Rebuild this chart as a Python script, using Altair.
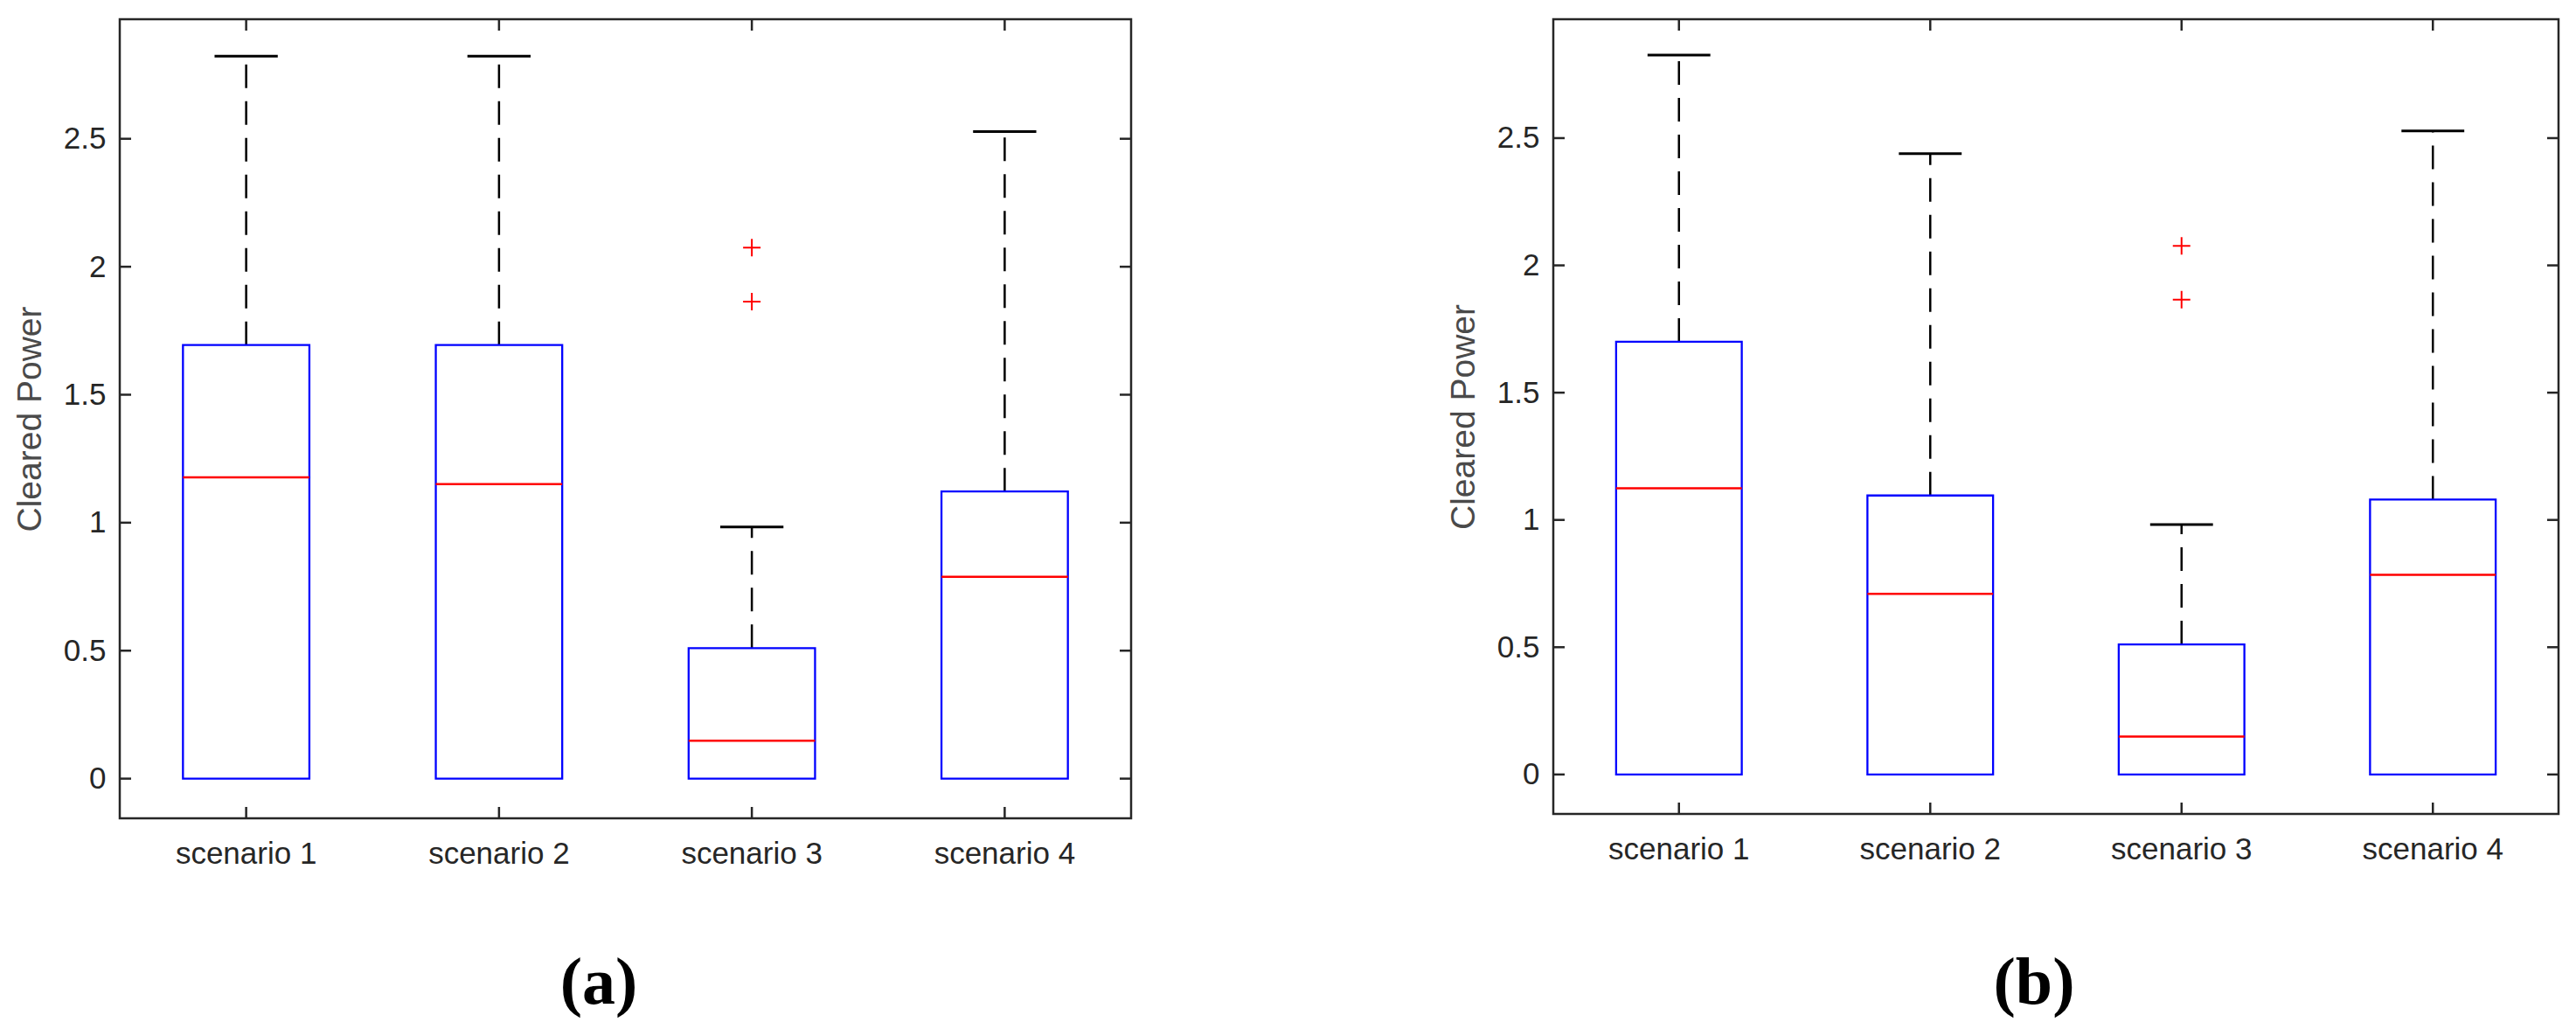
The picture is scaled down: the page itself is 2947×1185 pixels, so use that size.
import altair as alt
import pandas as pd

# ---------------- data ----------------
scenarios = ["scenario 1", "scenario 2", "scenario 3", "scenario 4"]
y_ticks = [0, 0.5, 1, 1.5, 2, 2.5]

# panel (a)
a_q1 = [0, 0, 0, 0]
a_q3 = [1.694, 1.694, 0.510, 1.122]
a_med = [1.177, 1.151, 0.148, 0.789]
a_hi = [2.823, 2.823, 0.983, 2.528]
a_out_scen = ["scenario 3", "scenario 3"]
a_out_val = [2.075, 1.864]

# panel (b)
b_q1 = [0, 0, 0, 0]
b_q3 = [1.700, 1.096, 0.511, 1.080]
b_med = [1.124, 0.710, 0.149, 0.784]
b_hi = [2.826, 2.439, 0.982, 2.528]
b_out_scen = ["scenario 3", "scenario 3"]
b_out_val = [2.077, 1.865]

Y_DOMAIN = [-0.155, 2.967]
AXIS_COLOR = "#262626"
FONT = "Liberation Sans"


def panel(q1, q3, med, hi, out_scen, out_val, label, W, H, label_x, label_y):
    df = pd.DataFrame({"scenario": scenarios, "q1": q1, "q3": q3, "med": med, "hi": hi})
    out = pd.DataFrame({"scenario": out_scen, "v": out_val})
    yt = pd.DataFrame({"v": y_ticks})
    xt = pd.DataFrame({"scenario": scenarios})
    lab = pd.DataFrame({"label": [label]})
    band = W / len(scenarios)

    def X():
        return alt.X(
            "scenario:N",
            sort=scenarios,
            scale=alt.Scale(domain=scenarios, paddingInner=0, paddingOuter=0),
            axis=alt.Axis(
                title=None, labelAngle=0, ticks=False, tickSize=0, domain=False,
                labelPadding=23, labelFontSize=35, labelFont=FONT,
                labelColor=AXIS_COLOR, grid=False,
            ),
        )

    def Y(field):
        return alt.Y(
            f"{field}:Q",
            scale=alt.Scale(domain=Y_DOMAIN, nice=False, zero=False),
            axis=alt.Axis(
                title="Cleared Power", values=y_ticks, format="~g", ticks=False,
                tickSize=0, domain=False, grid=False, labelPadding=16,
                labelFontSize=35, labelFont=FONT, labelColor=AXIS_COLOR,
                titleFont=FONT, titleFontSize=39, titleFontWeight="normal",
                titleColor="#4a4a4a", titlePadding=18, labelFlush=False,
            ),
        )

    whisker = alt.Chart(df).mark_rule(
        color="black", strokeWidth=2.5, strokeDash=[27, 15]
    ).encode(x=X(), y=Y("q3"), y2="hi:Q")
    cap = alt.Chart(df).mark_tick(
        color="black", thickness=3, size=band * 0.25, opacity=1
    ).encode(x=X(), y=Y("hi"))
    box = alt.Chart(df).mark_bar(
        fillOpacity=0, stroke="#0000ff", strokeWidth=2.3, width={"band": 0.5}
    ).encode(x=X(), y=Y("q1"), y2="q3:Q")
    median = alt.Chart(df).mark_tick(
        color="#ff0000", thickness=2.5, size=band * 0.5, opacity=1
    ).encode(x=X(), y=Y("med"))
    outl = alt.Chart(out).mark_point(
        shape="M-1,0L1,0M0,-1L0,1", size=400, strokeWidth=2,
        color="#ff0000", filled=False, opacity=1,
    ).encode(x=X(), y=Y("v"))

    ytl = alt.Chart(yt).mark_rule(color=AXIS_COLOR, strokeWidth=2.5).encode(
        y=Y("v"), x=alt.value(0), x2=alt.value(13))
    ytr = alt.Chart(yt).mark_rule(color=AXIS_COLOR, strokeWidth=2.5).encode(
        y=Y("v"), x=alt.value(W - 13), x2=alt.value(W))
    xtt = alt.Chart(xt).mark_rule(color=AXIS_COLOR, strokeWidth=2.5).encode(
        x=X(), y=alt.value(0), y2=alt.value(13))
    xtb = alt.Chart(xt).mark_rule(color=AXIS_COLOR, strokeWidth=2.5).encode(
        x=X(), y=alt.value(H - 13), y2=alt.value(H))

    txt = alt.Chart(lab).mark_text(
        font="Liberation Serif", fontWeight="bold", fontSize=76,
        color="black", align="center", baseline="middle",
    ).encode(x=alt.value(label_x), y=alt.value(label_y), text="label:N")

    return alt.layer(
        ytl, ytr, xtt, xtb, whisker, cap, box, median, outl, txt
    ).properties(width=W, height=H)


left = panel(a_q1, a_q3, a_med, a_hi, a_out_scen, a_out_val, "(a)",
             1157, 914, 548, 1103)
right = panel(b_q1, b_q3, b_med, b_hi, b_out_scen, b_out_val, "(b)",
              1150, 909, 550, 1103)

chart = (
    alt.hconcat(left, right, spacing=357)
    .properties(padding={"left": 6, "top": 11, "right": 0, "bottom": 0},
                background="white")
    .configure_view(stroke=AXIS_COLOR, strokeWidth=2.5)
)

chart.save("out.html", embed_options={"renderer": "svg", "actions": False})
